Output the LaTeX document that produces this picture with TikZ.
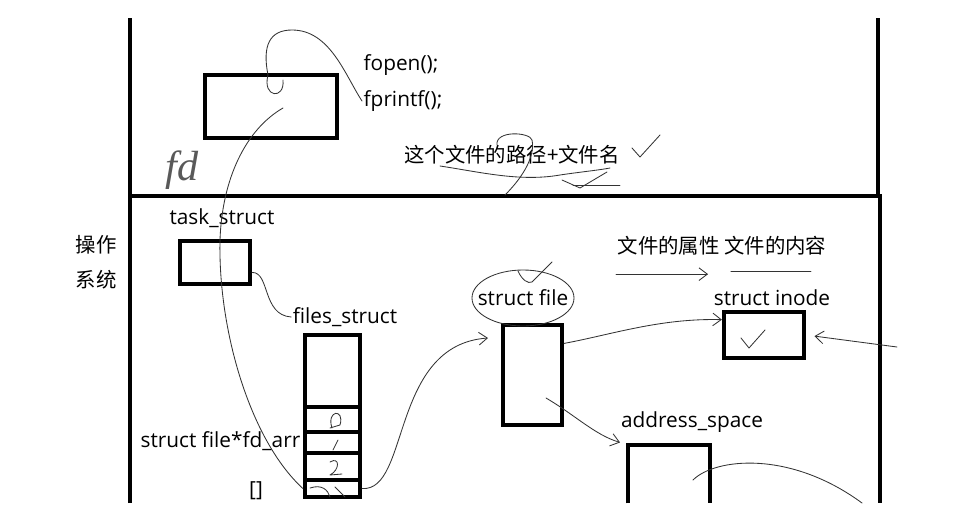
\documentclass[tikz,border=0pt]{standalone}
\usepackage{fontspec}
\setmainfont{Open Sans}
\newfontfamily\cjk{Noto Sans CJK SC}
\newfontfamily\hand{Liberation Serif}
\usetikzlibrary{arrows.meta, fit}

\begin{document}
\begin{tikzpicture}[x=0.025cm, y=-0.025cm,
  frame/.style={line width=3.5pt},
  box/.style={draw, line width=3pt, inner sep=0pt},
  lbl/.style={font=\fontsize{14.8}{17}\selectfont, inner sep=1pt},
  zh/.style={font=\cjk\fontsize{14.5}{17}\selectfont, inner sep=1pt},
  hand/.style={line width=0.6pt, black!80, line cap=round, line join=round},
  >={Straight Barb[length=6pt, width=9pt]}
]
  \useasboundingbox (0,0) rectangle (980,520);

  \draw[frame, line width=2.2pt] (130,18) -- (130,196) (878,18) -- (878,196);
  \draw[frame] (130,503) -- (130,196) -- (880,196) -- (880,503);

  \node[box, fit={(205,75) (337,138)}] (app) {};
  \node[lbl, anchor=west] (fopen) at (362,65) {fopen();};
  \node[lbl, anchor=west] (fprintf) at (362,101) {fprintf();};
  \node[zh] (path) at (512,155) {这个文件的路径+文件名};
  \node[font=\hand\itshape\fontsize{30}{30}\selectfont, black!65] (fd) at (182,170) {fd};

  \node[zh, align=center, font=\cjk\fontsize{14.5}{24.8}\selectfont] (os) at (96,262) {操作\\系统};
  \node[lbl] (tasklbl) at (222,218) {task\_struct};
  \node[box, fit={(180,241) (250,284)}] (task) {};
  \node[lbl] (fileslbl) at (345,317) {files\_struct};
  \node[box, fit={(305,335) (360,407)}] (fshead) {};
  \foreach \i/\a/\b in {0/407/432, 1/432/453, 2/453/480, 3/480/497}
    \node[box, fit={(305,\a) (360,\b)}] (fd\i) {};
  \node[lbl, anchor=east] (fdarr) at (302,441) {struct file*fd\_arr};
  \node[lbl] (brk) at (256,491) {[]};

  \node[lbl] (filelbl) at (523,298) {struct file};
  \node[box, fit={(503,325) (562,425)}] (file) {};
  \node[zh] (attr) at (722,246) {文件的属性 文件的内容};
  \node[lbl] (inodelbl) at (772,298) {struct inode};
  \node[box, fit={(724,312) (804,358)}] (inode) {};
  \node[lbl] (aslbl) at (692,422) {address\_space};
  \node[inner sep=0pt, fit={(628,445) (710,503)}] (aspace) {};
  \draw[box] (aspace.south west) |- (aspace.north east) -- (aspace.south east);

  \coordinate (loopA) at (283,80);
  \coordinate (fdsrc) at (283,108);
  \coordinate (fileIn) at (488,338);
  \coordinate (asrc) at (546,398);
  \coordinate (asin) at (693,480);
  \coordinate (asout) at (862,503);
  \coordinate (inIn) at (897,347);

  \draw[hand] (loopA) .. controls (285,100) and (262,98) .. (268,75)
    .. controls (262,45) and (270,30) .. (292,30)
    .. controls (330,30) and (345,75) .. (fprintf.west);
  \draw[hand] (fdsrc) .. controls (245,130) and (222,180) .. (220,240)
    .. controls (218,330) and (250,440) .. (fd3.west);
  \draw[hand, ->] (fd3.east) .. controls (410,492) and (390,345) .. (fileIn);
  \draw[hand] (task.-15) .. controls (270,272) and (262,315) .. (fileslbl.west);
  \draw[hand, ->] (file.45) .. controls (610,335) and (660,318) .. (inode.160);
  \draw[hand, ->, shorten >=2mm] (asrc) .. controls (575,415) and (595,435) .. (aspace.north west);
  \draw[hand] (asin) .. controls (715,458) and (790,450) .. (asout);
  \draw[hand, ->, shorten >=6pt] (inIn) -- (inode.east);
  \draw[hand, ->] ([shift={(0,17)}]attr.south west) -- +(92,0);
  \draw[hand] ([shift={(-17,14)}]attr.south east) -- +(-80,0);

  \draw[hand] (filelbl) ellipse (51 and 28);
  \draw[hand] (518,271) .. controls (522,280) and (528,284) .. (532,282) -- (552,262);
  \draw[hand] (741,338) -- (749,348) -- (765,330);
  \draw[hand] (632,148) -- (640,157) -- (660,135);
  \draw[hand] (440,166) .. controls (480,172) and (520,182) .. (560,175)
    .. controls (580,172) and (600,170) .. (610,168);
  \draw[hand] (497,145) .. controls (495,130) and (530,132) .. (532,140)
    .. controls (535,155) and (525,175) .. (505,195);
  \draw[hand] (562,180) -- (580,188) -- (607,172);
  \draw[hand] (573,185) -- (620,185);
  \draw[hand] (332,428) .. controls (326,410) and (345,408) .. (340,425) -- (330,428);
  \draw[hand] (338,440) -- (333,450);
  \draw[hand] (330,462) .. controls (340,456) and (340,470) .. (330,475) -- (342,474);
  \draw[hand] (310,488) .. controls (322,484) and (328,490) .. (330,497);
  \draw[hand] (335,487) -- (345,497);
\end{tikzpicture}
\end{document}
